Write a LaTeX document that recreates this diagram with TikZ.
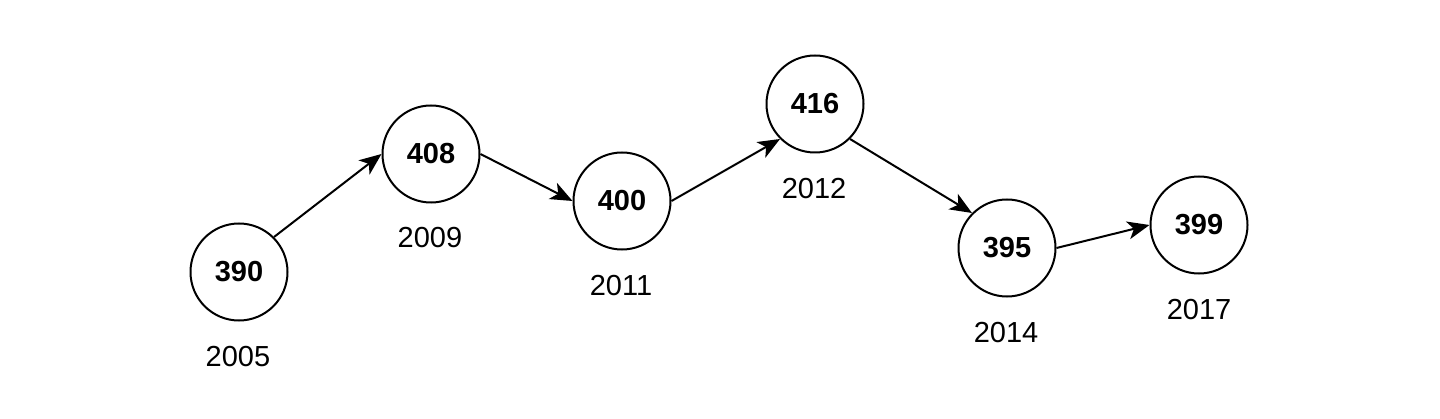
\documentclass[tikz,border=0pt]{standalone}
\usepackage{fontspec}
\setmainfont{Liberation Sans}
\usetikzlibrary{arrows.meta}
\begin{document}
\begin{tikzpicture}[x=1pt,y=1pt,
  val/.style={circle,draw=black,line width=2pt,minimum size=97pt,inner sep=0pt,font=\fontsize{29}{34}\selectfont\bfseries},
  yr/.style={inner sep=0pt,font=\fontsize{29}{34}\selectfont},
  conn/.style={line width=2pt,-{Stealth[length=22pt,width=18pt,inset=6pt]}}]
\useasboundingbox (0,0) rectangle (1440,418);
\node[val] (a) at (239,146) {390};
\node[val] (b) at (431,264) {408};
\node[val] (c) at (622,217) {400};
\node[val] (d) at (815,314) {416};
\node[val] (e) at (1007,170) {395};
\node[val] (f) at (1199,193) {399};
\node[yr] (ya) at (238,61) {2005};
\node[yr] (yb) at (430,180) {2009};
\node[yr] (yc) at (621,132) {2011};
\node[yr] (yd) at (814,229) {2012};
\node[yr] (ye) at (1006,85) {2014};
\node[yr] (yf) at (1199,108) {2017};
\draw[conn] (a.45) -- (b.west);
\draw[conn] (b.east) -- (c.west);
\draw[conn] (c.east) -- (d.225);
\draw[conn] (d.-45) -- (e.135);
\draw[conn] (e.east) -- (f.west);
\end{tikzpicture}
\end{document}
